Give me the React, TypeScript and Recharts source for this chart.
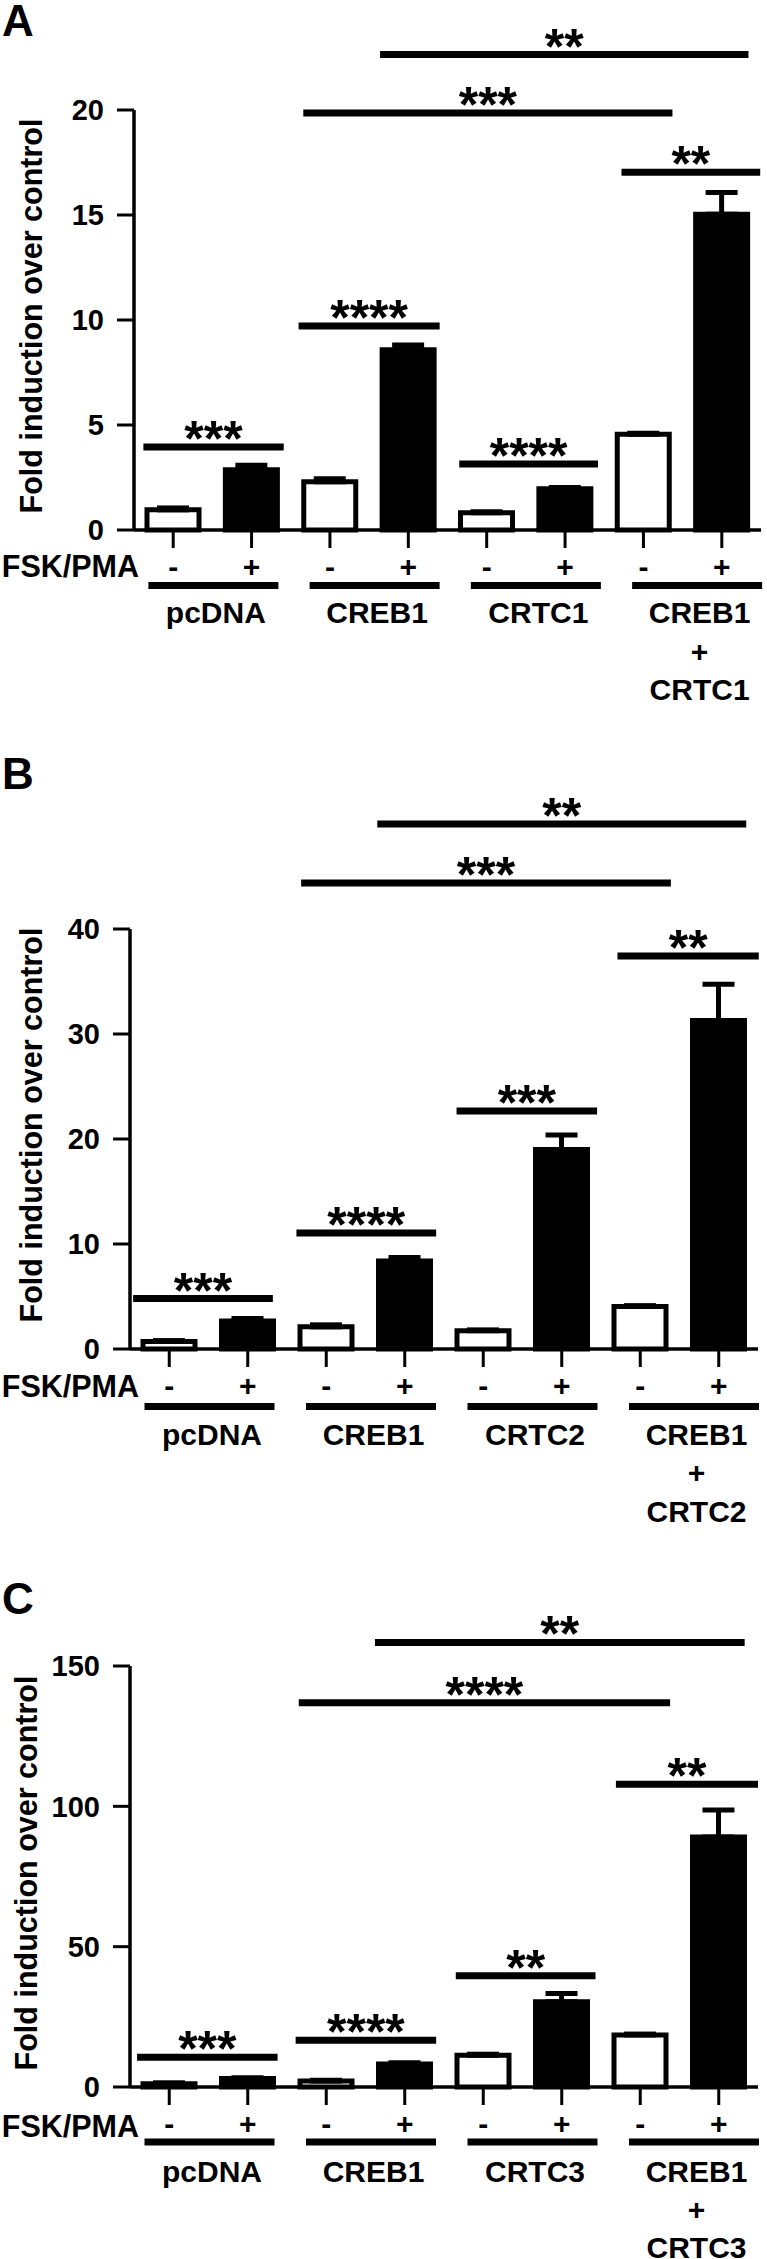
import { Bar, BarChart, Cell, ErrorBar, ReferenceLine, XAxis, YAxis } from "recharts";

const FONT = "'Liberation Sans', Arial, Helvetica, sans-serif";
const INK = "#000";

// FSK/PMA treatment for the 8 bars of every panel
const TREATMENT = ["-", "+", "-", "+", "-", "+", "-", "+"];

const GROUPS_A = [["pcDNA"], ["CREB1"], ["CRTC1"], ["CREB1", "+", "CRTC1"]];
const GROUPS_B = [["pcDNA"], ["CREB1"], ["CRTC2"], ["CREB1", "+", "CRTC2"]];
const GROUPS_C = [["pcDNA"], ["CREB1"], ["CRTC3"], ["CREB1", "+", "CRTC3"]];

const VALUES_A = [0.96, 2.87, 2.3, 8.58, 0.82, 1.97, 4.56, 15.04];
const ERRORS_A = [0.09, 0.21, 0.14, 0.23, 0.05, 0.05, 0.05, 1.03];
const VALUES_B = [0.72, 2.67, 2.11, 8.39, 1.74, 19.0, 4.05, 31.29];
const ERRORS_B = [0.08, 0.23, 0.19, 0.32, 0.08, 1.39, 0.08, 3.46];
const VALUES_C = [1.2, 3.0, 2.1, 8.23, 11.29, 30.39, 18.56, 89.03];
const ERRORS_C = [0.3, 0.3, 0.3, 0.4, 0.4, 2.88, 0.3, 9.62];

const TICKS_A = [0, 5, 10, 15, 20];
const TICKS_B = [0, 10, 20, 30, 40];
const TICKS_C = [0, 50, 100, 150];

type Sig = { from: number; to: number; y: number; label: string };

// significance brackets: from/to in bar-index units, y in data units
const SIG_A: Sig[] = [
  { from: 2.64, to: 7.34, y: 22.64, label: "**" },
  { from: 1.66, to: 6.37, y: 19.86, label: "***" },
  { from: 5.72, to: 7.49, y: 17.03, label: "**" },
  { from: 1.6, to: 3.4, y: 9.71, label: "****" },
  { from: -0.38, to: 1.41, y: 3.95, label: "***" },
  { from: 3.65, to: 5.42, y: 3.14, label: "****" },
];
const SIG_B: Sig[] = [
  { from: 2.65, to: 7.35, y: 50.0, label: "**" },
  { from: 1.68, to: 6.39, y: 44.38, label: "***" },
  { from: 5.71, to: 7.51, y: 37.43, label: "**" },
  { from: 3.66, to: 5.45, y: 22.67, label: "***" },
  { from: 1.62, to: 3.4, y: 11.05, label: "****" },
  { from: -0.46, to: 1.32, y: 4.8, label: "***" },
];
const SIG_C: Sig[] = [
  { from: 2.62, to: 7.33, y: 158.4, label: "**" },
  { from: 1.65, to: 6.38, y: 136.9, label: "****" },
  { from: 5.69, to: 7.5, y: 107.9, label: "**" },
  { from: 3.65, to: 5.43, y: 39.6, label: "**" },
  { from: 1.61, to: 3.4, y: 16.7, label: "****" },
  { from: -0.41, to: 1.38, y: 10.6, label: "***" },
];

type Panel = {
  letter: string;
  top: number;
  height: number;
  marginTop: number;
  plotH: number;
  yWidth: number;
  right: number;
  max: number;
  ticks: number[];
  values: number[];
  errors: number[];
  groups: string[][];
  sigs: Sig[];
  letterY: number;
  titleX: number;
  titleY: number;
  fskDy: number;
  underlineDy: number;
  lineDy: number[];
};

const PANELS: Panel[] = [
  {
    letter: "A", top: 0, height: 720, marginTop: 110, plotH: 420, yWidth: 134, right: 6,
    max: 20, ticks: TICKS_A, values: VALUES_A, errors: ERRORS_A, groups: GROUPS_A, sigs: SIG_A,
    letterY: 36, titleX: 42, titleY: 316, fskDy: 47, underlineDy: 55.5, lineDy: [92.5, 131.5, 170],
  },
  {
    letter: "B", top: 720, height: 820, marginTop: 209, plotH: 420, yWidth: 130, right: 9,
    max: 40, ticks: TICKS_B, values: VALUES_B, errors: ERRORS_B, groups: GROUPS_B, sigs: SIG_B,
    letterY: 789, titleX: 42, titleY: 1125, fskDy: 48, underlineDy: 57.5, lineDy: [95.5, 134, 172.5],
  },
  {
    letter: "C", top: 1560, height: 699, marginTop: 106, plotH: 421, yWidth: 130, right: 9,
    max: 150, ticks: TICKS_C, values: VALUES_C, errors: ERRORS_C, groups: GROUPS_C, sigs: SIG_C,
    letterY: 1614, titleX: 37, titleY: 1873, fskDy: 50, underlineDy: 55, lineDy: [95, 133, 171],
  },
];

const textStyle = { fontFamily: FONT, fontWeight: 700, fill: INK };

function CategoryTick(props: any) {
  const { x, payload, panel, ids } = props;
  const i = ids.indexOf(payload.value);
  const zero = panel.marginTop + panel.plotH;
  const band = (767 - panel.yWidth - panel.right) / 8;
  const parts = [
    <text key="s" x={x} y={zero + 47} textAnchor="middle" fontSize={30} {...textStyle}>
      {TREATMENT[i]}
    </text>,
  ];
  if (i % 2 === 1) {
    const g = (i - 1) / 2;
    const mid = x - band / 2 + 1 + 4.5 * g;
    const uy = zero + panel.underlineDy;
    parts.push(<line key="u" x1={mid - 65} x2={mid + 65} y1={uy} y2={uy} stroke={INK} strokeWidth={7} />);
    panel.groups[g].forEach((line: string, k: number) => {
      parts.push(
        <text key={`g${k}`} x={mid + 2.5} y={zero + panel.lineDy[k]} textAnchor="middle" fontSize={30} {...textStyle}>
          {line}
        </text>
      );
    });
  }
  return <g>{parts}</g>;
}

function PanelChart({ panel }: { panel: Panel }) {
  const rows = TREATMENT.map((t, i) => ({
    id: `${panel.groups[Math.floor(i / 2)].join(" ")} ${t}`,
    pos: i,
    value: panel.values[i],
    err: [0, panel.errors[i]],
  }));
  const ids = rows.map((r) => r.id);

  return (
    <div style={{ position: "absolute", left: 0, top: panel.top }}>
      <BarChart
        width={767}
        height={panel.height}
        data={rows}
        margin={{ top: panel.marginTop, right: panel.right, left: 0, bottom: 0 }}
      >
        <XAxis
          xAxisId="cat"
          dataKey="id"
          type="category"
          interval={0}
          height={panel.height - panel.marginTop - panel.plotH}
          axisLine={{ stroke: INK, strokeWidth: 3.5 }}
          tickLine={{ stroke: INK, strokeWidth: 3 }}
          tickSize={18}
          tickMargin={0}
          tick={(p: any) => <CategoryTick {...p} panel={panel} ids={ids} />}
        />
        <XAxis xAxisId="pos" dataKey="pos" type="number" domain={[-0.5, 7.5]} allowDataOverflow hide />
        <YAxis
          width={panel.yWidth}
          domain={[0, panel.max]}
          ticks={panel.ticks}
          interval={0}
          axisLine={{ stroke: INK, strokeWidth: 3.5 }}
          tickLine={{ stroke: INK, strokeWidth: 3 }}
          tickSize={17}
          tickMargin={13}
          tick={{ fontSize: 29, fontFamily: FONT, fontWeight: 700, fill: INK }}
        />
        <Bar xAxisId="cat" dataKey="value" barSize={52} stroke={INK} strokeWidth={5} isAnimationActive={false}>
          {rows.map((r, i) => (
            <Cell key={r.id} fill={TREATMENT[i] === "+" ? INK : "#fff"} />
          ))}
          <ErrorBar dataKey="err" direction="y" width={16} stroke={INK} strokeWidth={5} isAnimationActive={false} />
        </Bar>
        {panel.sigs.map((s, k) => (
          <ReferenceLine
            key={k}
            xAxisId="pos"
            segment={[
              { x: s.from, y: s.y },
              { x: s.to, y: s.y },
            ]}
            ifOverflow="visible"
            stroke={INK}
            strokeWidth={7}
            label={{
              value: s.label,
              position: "top",
              offset: -9,
              fontSize: 50,
              fontFamily: FONT,
              fontWeight: 700,
              fill: INK,
            }}
          />
        ))}
      </BarChart>
    </div>
  );
}

export default function App() {
  return (
    <div style={{ position: "absolute", left: 0, top: 0, width: 767, height: 2259, background: "#fff", overflow: "hidden" }}>
      {PANELS.map((p) => (
        <PanelChart key={p.letter} panel={p} />
      ))}
      <svg width={767} height={2259} style={{ position: "absolute", left: 0, top: 0, pointerEvents: "none" }}>
        {PANELS.map((p) => (
          <g key={p.letter}>
            <text x={2} y={p.letterY} fontSize={44} {...textStyle}>
              {p.letter}
            </text>
            <text
              x={p.titleX}
              y={p.titleY}
              fontSize={30.5}
              textAnchor="middle"
              transform={`rotate(-90 ${p.titleX} ${p.titleY})`}
              {...textStyle}
            >
              Fold induction over control
            </text>
            <text x={139} y={p.top + p.marginTop + p.plotH + p.fskDy} fontSize={30.5} textAnchor="end" {...textStyle}>
              FSK/PMA
            </text>
          </g>
        ))}
      </svg>
    </div>
  );
}
